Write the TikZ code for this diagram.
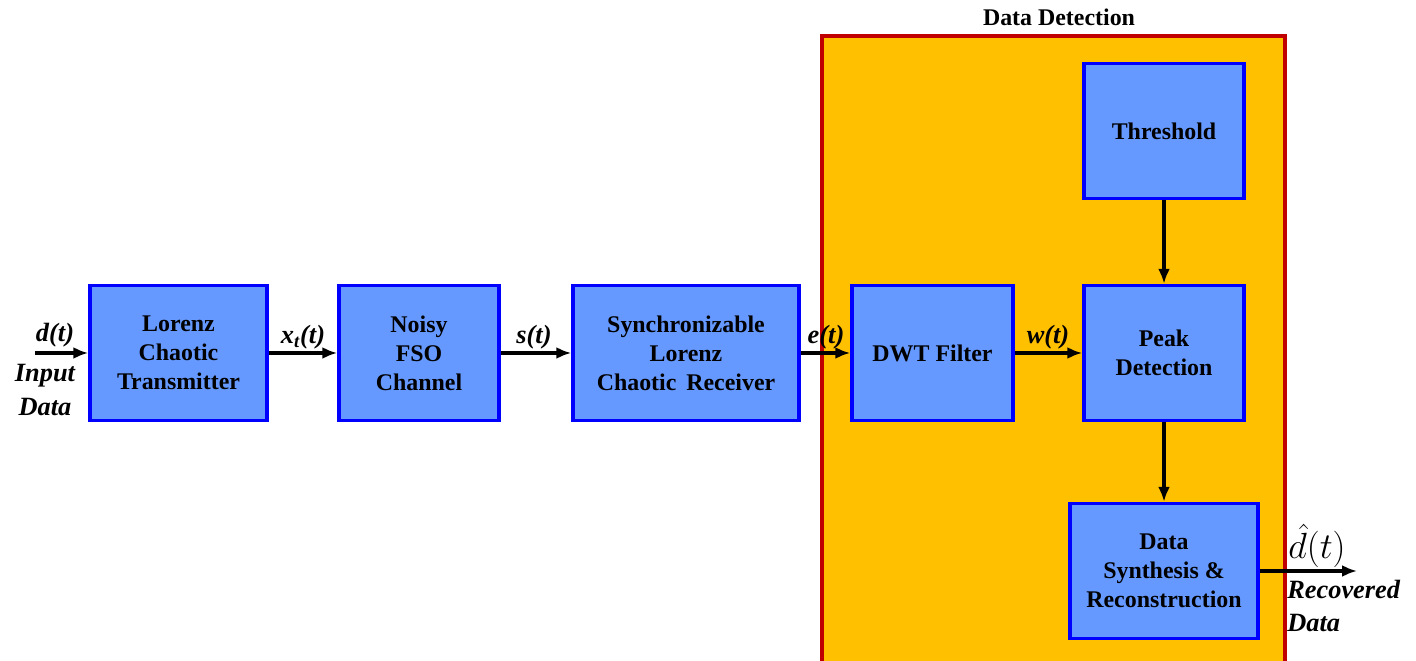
\documentclass[tikz,border=0pt]{standalone}
\usepackage{fontspec}
\setmainfont{Liberation Serif}
\usepackage{xcolor}
\usetikzlibrary{arrows.meta, positioning}

\definecolor{boxfill}{HTML}{6699FF}
\definecolor{boxline}{HTML}{0000FF}
\definecolor{detfill}{HTML}{FFC000}
\definecolor{detline}{HTML}{C00000}

\begin{document}
\begin{tikzpicture}[
  x=0.02cm, y=-0.02cm,
  block/.style={draw=boxline, line width=2pt, fill=boxfill, minimum height=2.7cm, align=center,
    font=\bfseries\fontsize{13.6}{16.5}\selectfont},
  sig/.style={font=\bfseries\itshape\fontsize{15}{17}\selectfont, inner sep=0pt},
  note/.style={font=\bfseries\itshape\fontsize{15}{19}\selectfont, inner sep=0pt},
  arr/.style={-{Latex[length=3mm, width=2.4mm]}, line width=2pt}
]
\useasboundingbox (0,0) rectangle (1416,661);

% detection area
\begin{scope}
\clip (0,0) rectangle (1416,661);
\draw[draw=detline, fill=detfill, line width=1.8pt] (822,36) rectangle (1285,670);
\end{scope}
\node[font=\bfseries\fontsize{13.6}{16}\selectfont] (dettitle) at (1059,17) {Data Detection};

% blocks
\node[block, minimum width=3.54cm] (tx) at (178.5,353) {Lorenz\\Chaotic\\Transmitter};
\node[block, minimum width=3.2cm] (ch) at (419,353) {Noisy\\FSO\\Channel};
\node[block, minimum width=4.52cm] (rx) at (686,353) {Synchronizable\\Lorenz\\Chaotic\ \,Receiver};
\node[block, minimum width=3.22cm] (dwt) at (932.5,353) {DWT Filter};
\node[block, minimum width=3.2cm] (thr) at (1164,131) {Threshold};
\node[block, minimum width=3.2cm] (peak) at (1164,353) {Peak\\Detection};
\node[block, minimum width=3.76cm] (syn) at (1164,571) {Data\\Synthesis \&\\Reconstruction};

\coordinate (in) at (35,353);
\coordinate (out) at (1357,571);

% connectors
\draw[arr] (in) -- (tx);
\draw[arr] (tx) -- (ch);
\draw[arr] (ch) -- (rx);
\draw[arr] (rx) -- (dwt);
\draw[arr] (dwt) -- (peak);
\draw[arr] (thr) -- (peak);
\draw[arr] (peak) -- (syn);
\draw[arr] (syn) -- (out);

% signal labels
\node[sig] (dlab) at (55,335) {d(t)};
\node[note, align=center] (inlab) at (45,390) {Input\\Data};
\node[sig] (xlab) at (303,337) {x\textsubscript{t}(t)};
\node[sig] (slab) at (534,337) {s(t)};
\node[sig] (elab) at (826,337) {e(t)};
\node[sig] (wlab) at (1048,337) {w(t)};
\node[font=\fontsize{20}{22}\selectfont, inner sep=0pt] (dhat) at (1317,546) {$\hat{d}(t)$};
\node[note, align=left, anchor=west] (outlab) at (1287,606) {Recovered\\Data};
\end{tikzpicture}
\end{document}
